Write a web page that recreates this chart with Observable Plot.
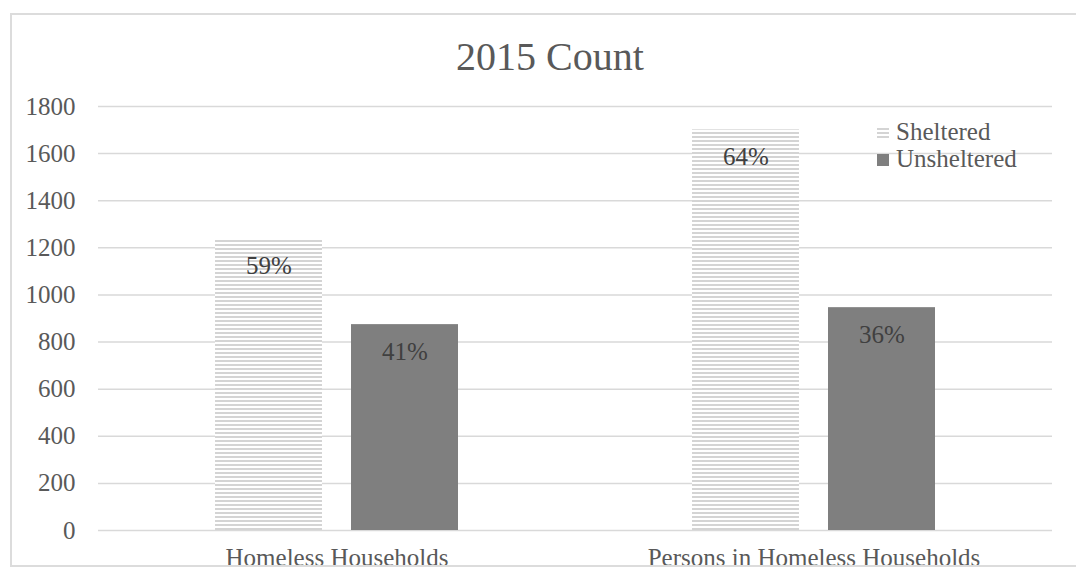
<!DOCTYPE html>
<html><head><meta charset="utf-8">
<script src="https://cdn.jsdelivr.net/npm/d3@7"></script>
<script src="https://cdn.jsdelivr.net/npm/@observablehq/plot@0.6"></script>
<style>
body{margin:0;background:#fff;}
#wrap{position:relative;width:1076px;height:567px;overflow:hidden;font-family:"Liberation Serif",serif;color:#595959;background:#fff;}
#box{position:absolute;left:10px;top:13px;width:1100px;height:550px;border:2px solid #dcdcdc;overflow:hidden;}
#chart{position:absolute;left:-12px;top:-15px;}
#overlay{position:absolute;left:0;top:0;}
</style>
</head><body>
<svg width="0" height="0" style="position:absolute">
  <defs>
    <pattern id="stripes" patternUnits="userSpaceOnUse" width="4" height="4">
      <rect width="4" height="4" fill="#ffffff"></rect>
      <rect y="0" width="4" height="2" fill="#d4d4d4"></rect>
    </pattern>
  </defs>
</svg>
<div id="wrap">
  <div id="box"><div id="chart"></div></div>
  <svg id="overlay" width="1076" height="567"></svg>
</div>
<script>
const title = "2015 Count";
const categories = ["Homeless Households", "Persons in Homeless Households"];
const series = ["Sheltered", "Unsheltered"];
const sheltered = [1237, 1701];
const unsheltered = [874, 946];
const shelteredPct = ["59%", "64%"];
const unshelteredPct = ["41%", "36%"];
const yTicks = [0, 200, 400, 600, 800, 1000, 1200, 1400, 1600, 1800];
const seriesFill = ["url(#stripes)", "#7f7f7f"];

const data = categories.flatMap((c, i) => [
  {category: c, series: series[0], value: sheltered[i], label: shelteredPct[i]},
  {category: c, series: series[1], value: unsheltered[i], label: unshelteredPct[i]}
]);

const chart = Plot.plot({
  width: 1076,
  height: 567,
  marginLeft: 98,
  marginRight: 24,
  marginTop: 106,
  marginBottom: 37,
  style: {fontFamily: "Liberation Serif, serif", fontSize: "25px", color: "#595959", background: "transparent", overflow: "visible"},
  fx: {domain: categories, padding: 0, label: null},
  x: {domain: series, paddingInner: 0.213, paddingOuter: 0.86, axis: null},
  y: {domain: [0, 1800], label: null},
  marks: [
    Plot.ruleY(yTicks, {stroke: "#d9d9d9", strokeWidth: 1.5}),
    Plot.axisY(yTicks, {tickSize: 0, tickPadding: 23, fontSize: 25, label: null, tickFormat: d => String(d)}),
    Plot.axisFx({anchor: "bottom", tickSize: 0, tickPadding: 18, fontSize: 25, label: null}),
    Plot.barY(data.filter(d => d.series === series[0]), {fx: "category", x: "series", y: "value", fill: seriesFill[0]}),
    Plot.barY(data.filter(d => d.series === series[1]), {fx: "category", x: "series", y: "value", fill: seriesFill[1]}),
    Plot.text(data, {fx: "category", x: "series", y: "value", text: "label", dy: 27, fill: "#404040", fontSize: 25})
  ]
});
document.getElementById("chart").appendChild(chart);

// title and legend
const ov = d3.select("#overlay");
ov.append("text").attr("x", 550).attr("y", 70).attr("text-anchor", "middle")
  .attr("font-family", "Liberation Serif, serif").attr("font-size", 40).attr("fill", "#595959").text(title);
const legendY = [126, 154];
const textY = [140, 167];
series.forEach((s, i) => {
  ov.append("rect").attr("x", 877).attr("y", legendY[i]).attr("width", 12).attr("height", i === 0 ? 13 : 12).attr("fill", seriesFill[i]);
  ov.append("text").attr("x", 896).attr("y", textY[i]).attr("font-family", "Liberation Serif, serif")
    .attr("font-size", 25).attr("fill", "#595959").text(s);
});
</script>
</body></html>
